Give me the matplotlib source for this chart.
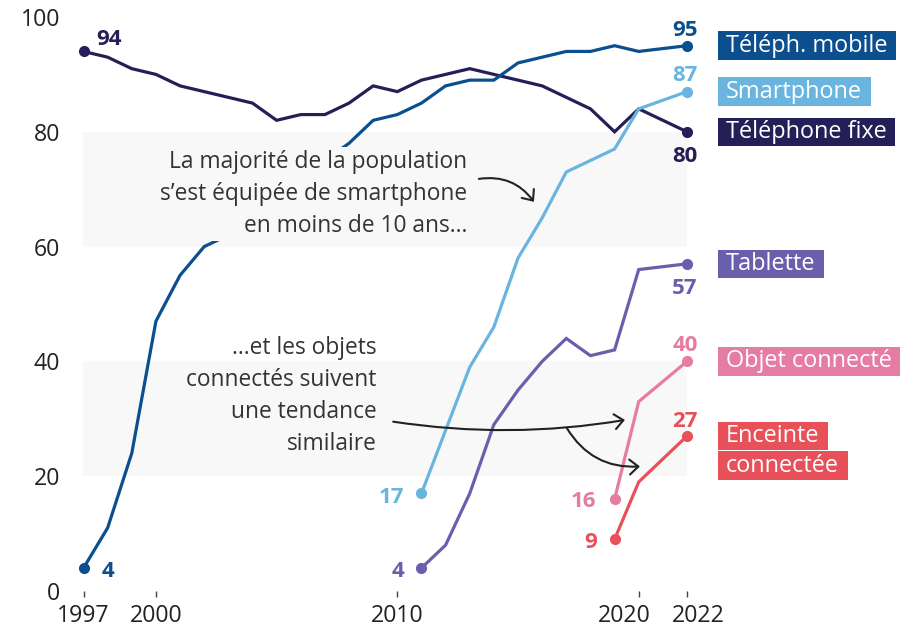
import matplotlib
matplotlib.use('Agg')
import matplotlib.pyplot as plt
from matplotlib.patches import Rectangle
from matplotlib.transforms import IdentityTransform, ScaledTranslation

plt.rcParams['font.family'] = ['Open Sans', 'DejaVu Sans']

# données (en %)
years_long = list(range(1997, 2021)) + [2022]
mobile = [4, 11, 24, 47, 55, 60, 62, 66, 69, 72, 75, 78, 82, 83, 85, 88, 89, 89,
          92, 93, 94, 94, 95, 94, 95]
fixe = [94, 93, 91, 90, 88, 87, 86, 85, 82, 83, 83, 85, 88, 87, 89, 90, 91, 90,
        89, 88, 86, 84, 80, 84, 80]

years_mid = list(range(2011, 2021)) + [2022]
smartphone = [17, 28, 39, 46, 58, 65, 73, 75, 77, 84, 87]
tablette = [4, 8, 17, 29, 35, 40, 44, 41, 42, 56, 57]

years_short = [2019, 2020, 2022]
objet = [16, 33, 40]
enceinte = [9, 19, 27]

c_mobile = '#0b4f8f'
c_fixe = '#251f58'
c_smart = '#6ab4e0'
c_tab = '#6a5fad'
c_objet = '#e57ca3'
c_enc = '#e8505a'
band = '#f8f8f8'
txt = '#222222'

W, H = 912, 627
fig = plt.figure(figsize=(W / 100, H / 100), dpi=100)
ax = fig.add_axes([83.5 / W, 1 - 591 / H, (687 - 83.5) / W, (591 - 17) / H])

ax.axhspan(60, 80, color=band, zorder=0, lw=0)
ax.axhspan(20, 40, color=band, zorder=0, lw=0)

series = [
    (years_long, fixe, c_fixe),
    (years_long, mobile, c_mobile),
    (years_mid, smartphone, c_smart),
    (years_mid, tablette, c_tab),
    (years_short, objet, c_objet),
    (years_short, enceinte, c_enc),
]
for xs, ys, c in series:
    ax.plot(xs, ys, color=c, lw=2.3, zorder=3, solid_joinstyle='miter', clip_on=False)
    ax.plot([xs[0], xs[-1]], [ys[0], ys[-1]], 'o', color=c, ms=7, zorder=3, clip_on=False)

ax.set_xlim(1997, 2022)
ax.set_ylim(0, 100)
ax.set_xticks([1997, 2000, 2010, 2020, 2022])
ax.set_yticks([0, 20, 40, 60, 80, 100])
ax.tick_params(axis='x', length=4, width=1, color='#444444', pad=5,
               labelsize=16.7, labelcolor=txt)
ax.tick_params(axis='y', length=0, pad=17, labelsize=16.7, labelcolor=txt)
for s in ax.spines.values():
    s.set_visible(False)

# écarter 2020 et 2022
xl = ax.get_xticklabels()
xl[3].set_transform(xl[3].get_transform() + ScaledTranslation(-14 / 100, 0, fig.dpi_scale_trans))
xl[4].set_transform(xl[4].get_transform() + ScaledTranslation(11 / 100, 0, fig.dpi_scale_trans))


def val(x, y, s, c, dx, dy, ha):
    ax.annotate(s, (x, y), xytext=(dx, dy), textcoords='offset pixels',
                ha=ha, va='baseline', color=c, fontsize=16, fontweight='bold',
                zorder=6, annotation_clip=False)


# valeurs de début
val(years_long[0], fixe[0], str(fixe[0]), c_fixe, 13, 6, 'left')
val(years_long[0], mobile[0], str(mobile[0]), c_mobile, 18, -9, 'left')
val(years_mid[0], smartphone[0], str(smartphone[0]), c_smart, -17, -10, 'right')
val(years_mid[0], tablette[0], str(tablette[0]), c_tab, -17, -9, 'right')
val(years_short[0], objet[0], str(objet[0]), c_objet, -18, -8, 'right')
val(years_short[0], enceinte[0], str(enceinte[0]), c_enc, -18, -9, 'right')

# valeurs de fin
val(2022, mobile[-1], str(mobile[-1]), c_mobile, -2, 10, 'center')
val(2022, smartphone[-1], str(smartphone[-1]), c_smart, -2, 11, 'center')
val(2022, fixe[-1], str(fixe[-1]), c_fixe, -2, -30, 'center')
val(2022, tablette[-1], str(tablette[-1]), c_tab, -2, -30, 'center')
val(2022, objet[-1], str(objet[-1]), c_objet, -2, 10, 'center')
val(2022, enceinte[-1], str(enceinte[-1]), c_enc, -2, 9, 'center')

# étiquettes de séries
labels = [
    ('Téléph. mobile', mobile[-1], c_mobile, 0),
    ('Smartphone', smartphone[-1], c_smart, 0),
    ('Téléphone fixe', fixe[-1], c_fixe, 0),
    ('Tablette', tablette[-1], c_tab, 0),
    ('Objet connecté', objet[-1], c_objet, 0),
    ('Enceinte', enceinte[-1], c_enc, 0),
    ('connectée', enceinte[-1], c_enc, -29.5),
]
boxes = []
for s, y, c, dy in labels:
    t = ax.annotate(s, (2022, y), xytext=(39, dy), textcoords='offset pixels',
                    ha='left', va='center', color='white', fontsize=16.9,
                    zorder=7, annotation_clip=False)
    boxes.append((t, c))

# annotations
ax.text(2012.9, 69.2, 'La majorité de la population\ns’est équipée de smartphone\nen moins de 10 ans…',
        ha='right', va='center', fontsize=16.4, color='#333333', linespacing=1.45,
        zorder=4, bbox=dict(boxstyle='square,pad=0.12', fc=band, ec='none'))
ax.text(2009.13, 34.0, '…et les objets\nconnectés suivent\nune tendance\nsimilaire',
        ha='right', va='center', fontsize=16.4, color='#333333', linespacing=1.45,
        zorder=4)

arrow = dict(arrowstyle='->,head_length=0.35,head_width=0.3', mutation_scale=18,
             color='#222222', lw=1.5, shrinkA=0, shrinkB=0)
ax.annotate('', xy=(2015.66, 67.8), xytext=(2013.38, 71.8),
            arrowprops=dict(arrow, connectionstyle='arc3,rad=-0.3'), zorder=5)
ax.annotate('', xy=(2019.43, 29.8), xytext=(2009.83, 29.5),
            arrowprops=dict(arrow, connectionstyle='arc3,rad=0.08'), zorder=5)
ax.annotate('', xy=(2020.05, 21.7), xytext=(2017.02, 28.4),
            arrowprops=dict(arrow, connectionstyle='arc3,rad=0.3'), zorder=5)

fig.canvas.draw()
ren = fig.canvas.get_renderer()
for t, c in boxes:
    bb = t.get_window_extent(ren)
    hpad = (28.5 - bb.height) / 2
    ax.add_patch(Rectangle((bb.x0 - 8.5, bb.y0 - hpad), bb.width + 17, bb.height + 2 * hpad,
                           transform=IdentityTransform(), fc=c, ec='none',
                           zorder=6, clip_on=False))

fig.savefig('out.png', dpi=100)
